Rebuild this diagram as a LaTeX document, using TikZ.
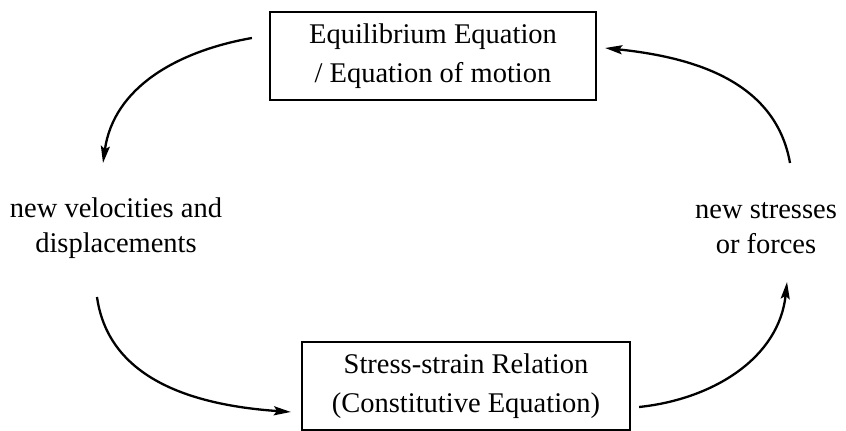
\documentclass[tikz,border=0pt]{standalone}
\usepackage{fontspec}
\setmainfont{Liberation Serif}
\usetikzlibrary{arrows.meta}
\begin{document}
\begin{tikzpicture}[x=1pt,y=1pt,
  boxnode/.style={draw, line width=2.2pt, minimum width=326pt, minimum height=88pt, align=center, inner sep=0pt, font=\fontsize{28.5}{38.5}\selectfont},
  sidetext/.style={align=center, inner sep=0pt, font=\fontsize{28.5}{35}\selectfont},
  arr/.style={line width=2.3pt, -{Stealth[length=17pt,width=9pt,inset=3pt]}}]
\useasboundingbox (0,0) rectangle (846,431);
\node[boxnode] (top) at (433,375) {Equilibrium Equation\\/ Equation of motion};
\node[boxnode, minimum width=328pt] (bot) at (466,45) {Stress-strain Relation\\(Constitutive Equation)};
\node[sidetext] (left) at (116,203) {new velocities and\\displacements};
\node[sidetext] (right) at (766,203) {new stresses\\or forces};
\draw[arr] ([shift={(-17,18)}]top.west) to[out=190,in=82] ([shift={(-13,65)}]left.center);
\draw[arr] ([shift={(-19,-69)}]left.center) to[out=-82,in=176] ([shift={(-10,-26)}]bot.west);
\draw[arr] ([shift={(8,-21)}]bot.east) to[out=6,in=-96] ([shift={(21,-54)}]right.center);
\draw[arr] ([shift={(24,65)}]right.center) to[out=100,in=-6] ([shift={(8,8)}]top.east);
\end{tikzpicture}
\end{document}
